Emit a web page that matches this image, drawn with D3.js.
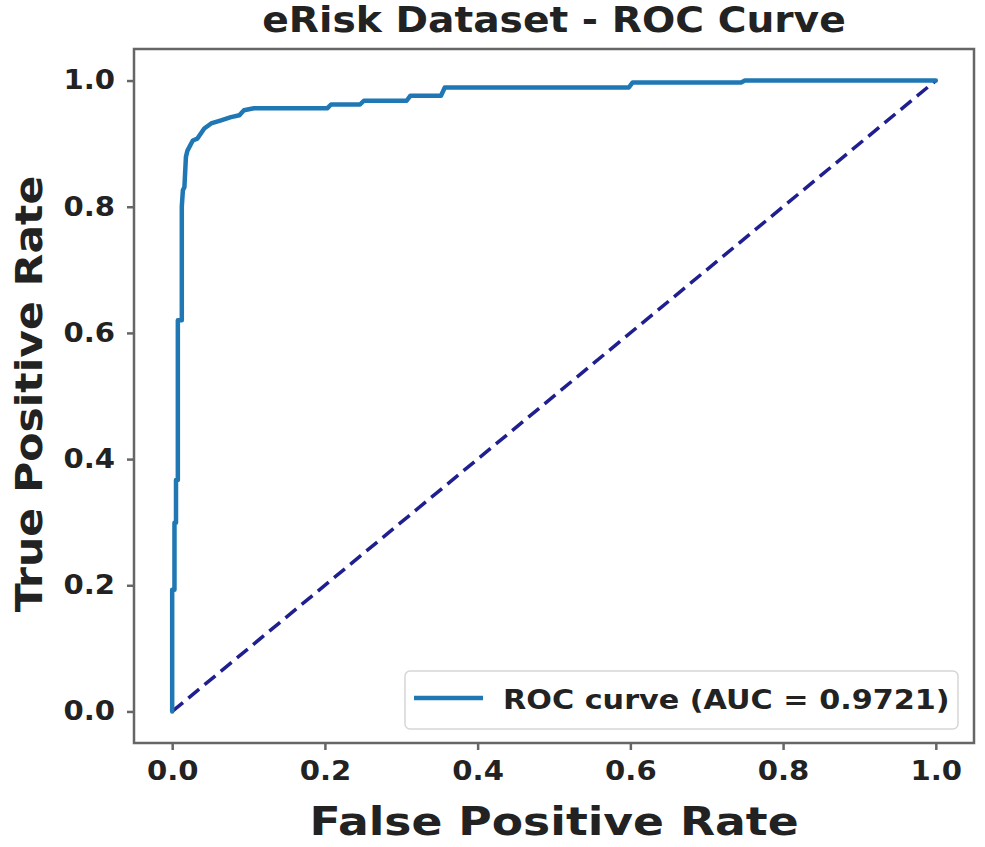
<!DOCTYPE html>
<html>
<head>
<meta charset="utf-8">
<script src="https://cdn.jsdelivr.net/npm/d3@7"></script>
<style>
  html, body { margin: 0; padding: 0; background: #fff; }
  #roc { width: 985px; height: 847px; }
  text { font-family: "DejaVu Sans", sans-serif; font-weight: bold; fill: #222; }
</style>
</head>
<body>
<div id="roc"></div>
<script>
// ROC points (false positive rate, true positive rate)
const fpr = [0, 0, 0.003, 0.003, 0.005, 0.005, 0.0074, 0.0074, 0.0126, 0.0126, 0.014, 0.016, 0.018, 0.020,
             0.027, 0.033, 0.042, 0.051, 0.064, 0.077, 0.088, 0.094, 0.107, 0.203, 0.208, 0.246, 0.251,
             0.307, 0.312, 0.352, 0.357, 0.598, 0.603, 0.745, 0.75, 1.0];
const tpr = [0, 0.193, 0.193, 0.299, 0.299, 0.367, 0.367, 0.620, 0.620, 0.80, 0.826, 0.831, 0.879, 0.889,
             0.905, 0.908, 0.924, 0.932, 0.937, 0.942, 0.945, 0.953, 0.956, 0.956, 0.962, 0.962, 0.968,
             0.968, 0.976, 0.976, 0.989, 0.989, 0.997, 0.997, 1.0, 1.0];
const chance = [0, 1];
const xTicks = [0, 0.2, 0.4, 0.6, 0.8, 1.0];
const yTicks = [0, 0.2, 0.4, 0.6, 0.8, 1.0];
const titleText = 'eRisk Dataset - ROC Curve';
const xLabel = 'False Positive Rate';
const yLabel = 'True Positive Rate';
const legendText = 'ROC curve (AUC = 0.9721)';

const W = 985, H = 847;
const frame = { left: 134, right: 974, top: 49, bottom: 743 };
// the source font runs wider than DejaVu Sans Bold, so text is stretched sideways a bit
const stretch = 1.12;

const svg = d3.select('#roc')
    .append('svg')
    .attr('width', W)
    .attr('height', H);

// matplotlib-style 5% padding around [0, 1]
const x = d3.scaleLinear()
    .domain([-0.05, 1.05])
    .range([frame.left, frame.right]);
const y = d3.scaleLinear()
    .domain([-0.05, 1.05])
    .range([frame.bottom, frame.top]);

const styleTicks = g => {
    g.select('.domain').remove();
    g.selectAll('.tick line').attr('stroke', '#666').attr('stroke-width', 2.5);
    g.selectAll('.tick text')
        .attr('font-family', 'DejaVu Sans')
        .attr('font-weight', 'bold')
        .attr('font-size', 26)
        .attr('fill', '#222');
};

// x axis: ticks, then labels stretched round their own centre
svg.append('g')
    .attr('transform', `translate(0,${frame.bottom})`)
    .call(d3.axisBottom(x).tickValues(xTicks).tickFormat(d3.format('.1f')).tickSize(7).tickPadding(12))
    .call(styleTicks)
    .call(g => g.selectAll('.tick text').attr('transform', `scale(${stretch},1)`));

// y axis: labels are right aligned, so stretch them towards the left
svg.append('g')
    .attr('transform', `translate(${frame.left},0)`)
    .call(d3.axisLeft(y).tickValues(yTicks).tickFormat(d3.format('.1f')).tickSize(7).tickPadding(0))
    .call(styleTicks)
    .call(g => g.selectAll('.tick text')
        .attr('x', null)
        .attr('transform', `translate(-19,0) scale(${stretch},1)`));

// chance diagonal
svg.append('line')
    .attr('x1', x(chance[0])).attr('y1', y(chance[0]))
    .attr('x2', x(chance[1])).attr('y2', y(chance[1]))
    .attr('stroke', '#1f1f8f')
    .attr('stroke-width', 3.5)
    .attr('stroke-dasharray', '14,7');

// ROC curve
const rocLine = d3.line()
    .x(d => x(d[0]))
    .y(d => y(d[1]));

svg.append('path')
    .datum(d3.zip(fpr, tpr))
    .attr('d', rocLine)
    .attr('fill', 'none')
    .attr('stroke', '#1f77b4')
    .attr('stroke-width', 4.5)
    .attr('stroke-linejoin', 'round')
    .attr('stroke-linecap', 'round');

// frame
svg.append('rect')
    .attr('x', frame.left).attr('y', frame.top)
    .attr('width', frame.right - frame.left)
    .attr('height', frame.bottom - frame.top)
    .attr('fill', 'none')
    .attr('stroke', '#666')
    .attr('stroke-width', 2.5);

// legend
const legend = svg.append('g').attr('transform', 'translate(405,671)');
legend.append('rect')
    .attr('width', 553).attr('height', 58)
    .attr('rx', 5)
    .attr('fill', '#fff')
    .attr('stroke', '#d6d6d6')
    .attr('stroke-width', 1.5);
legend.append('line')
    .attr('x1', 9).attr('x2', 78)
    .attr('y1', 27).attr('y2', 27)
    .attr('stroke', '#1f77b4')
    .attr('stroke-width', 4.5);
legend.append('text')
    .attr('transform', `translate(98,38) scale(${stretch},1)`)
    .attr('font-size', 27)
    .text(legendText);

// title and axis labels
svg.append('text')
    .attr('transform', `translate(${(frame.left + frame.right) / 2},32) scale(${stretch},1)`)
    .attr('text-anchor', 'middle')
    .attr('font-size', 35)
    .text(titleText);

svg.append('text')
    .attr('transform', `translate(${(frame.left + frame.right) / 2},835) scale(1.17,1)`)
    .attr('text-anchor', 'middle')
    .attr('font-size', 39)
    .text(xLabel);

svg.append('text')
    .attr('transform', `translate(42,394) rotate(-90) scale(${stretch},1)`)
    .attr('text-anchor', 'middle')
    .attr('font-size', 38)
    .text(yLabel);
</script>
</body>
</html>
